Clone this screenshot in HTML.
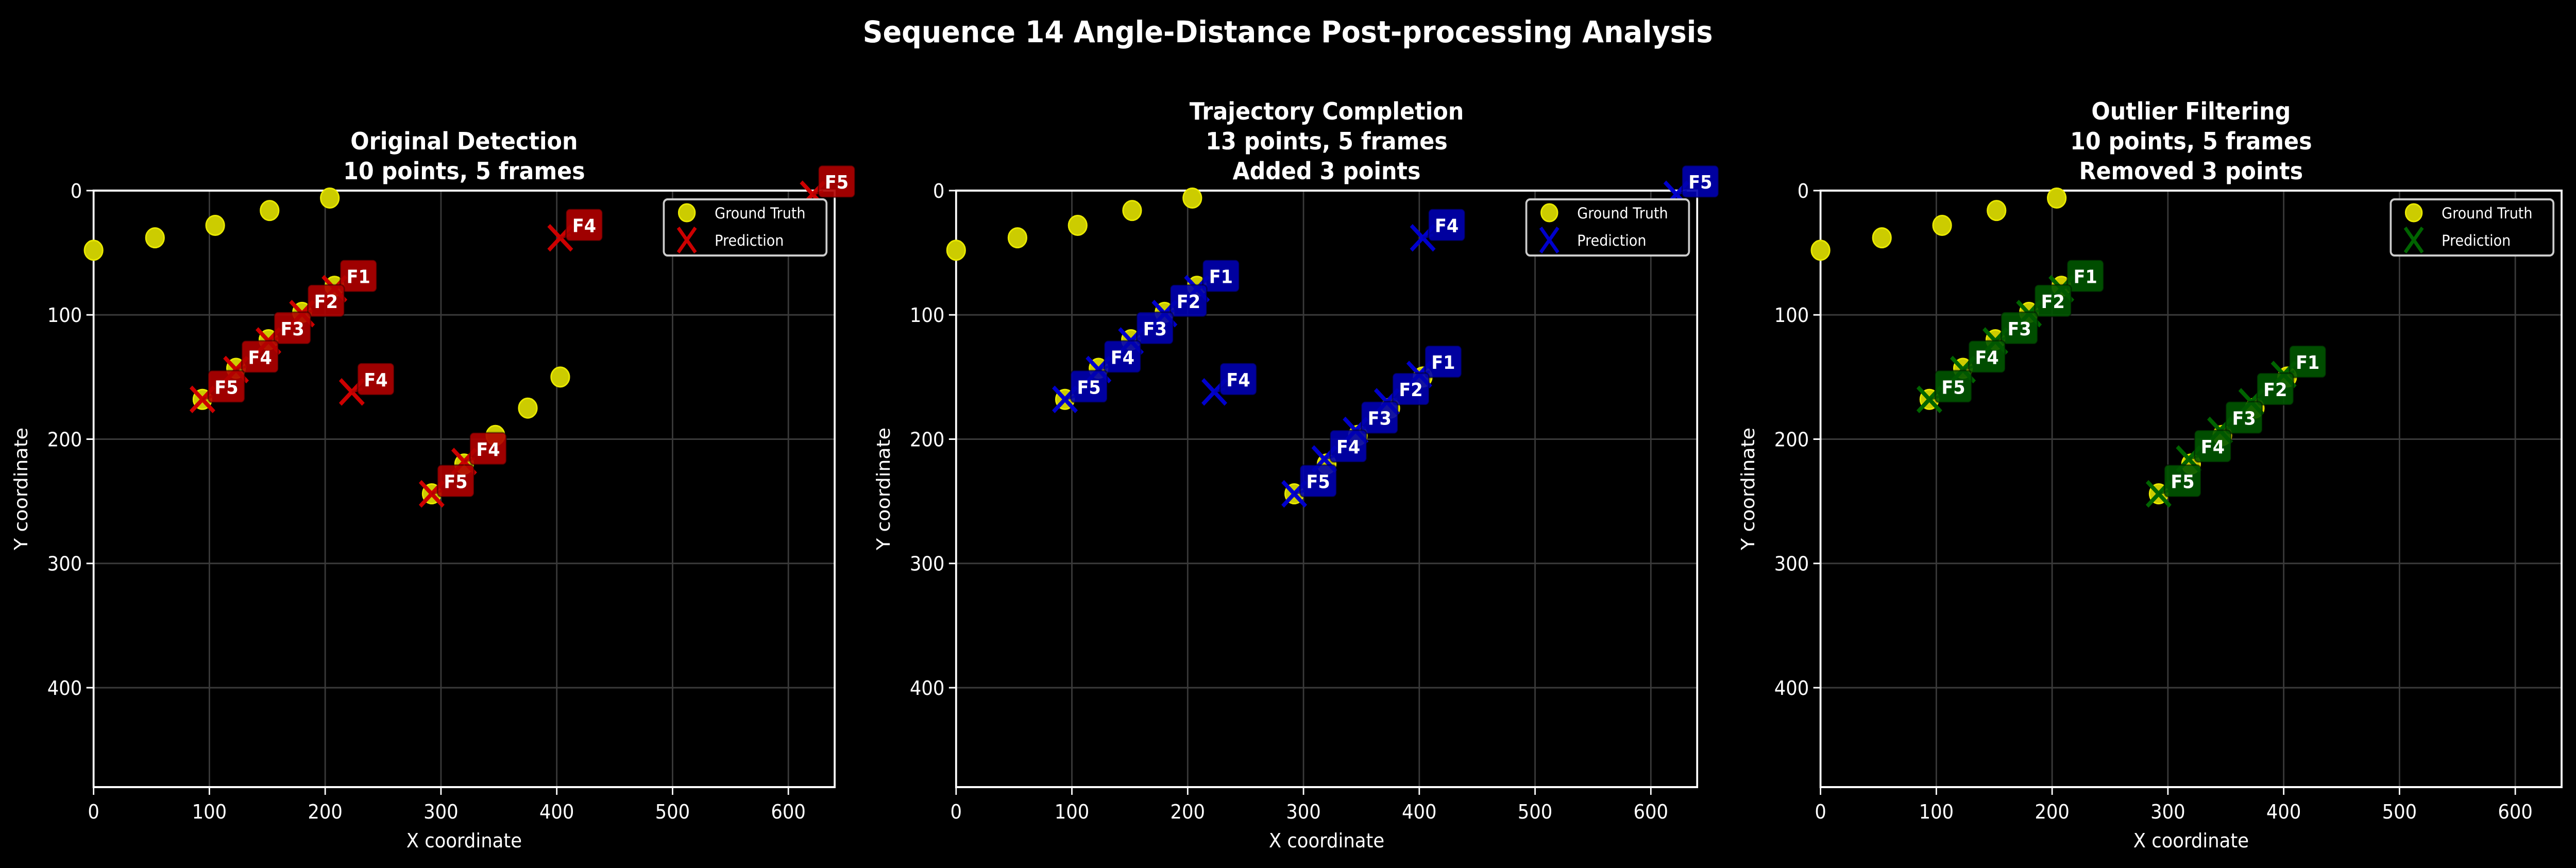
<!DOCTYPE html>
<html><head><meta charset="utf-8"><style>
html,body{margin:0;padding:0;background:#000;width:100vw;height:100vh;overflow:hidden;}
svg{display:block;width:100vw;height:100vh;}
text{font-family:"DejaVu Sans","Liberation Sans",sans-serif;fill:#fff;}
</style></head><body>
<svg id="fig" viewBox="0 0 5367 1685" preserveAspectRatio="none" xmlns="http://www.w3.org/2000/svg">
<rect width="5367" height="1685" fill="#000"/>
<text x="2683" y="82" text-anchor="middle" font-size="58" font-weight="bold">Sequence 14 Angle-Distance Post-processing Analysis</text>
</svg>
<script>
const xTicks=[0,100,200,300,400,500,600];
const yTicks=[0,100,200,300,400];
const gtX=[0,53,105,152,204,208,180,151,123,94,403,375,347,320,292];
const gtY=[48,38,28,16,6,77,98,120,143,168,150,175,197,220,244];
const p1X=[208,180,151,123,94,223,403,621,320,292];
const p1Y=[79,99,121,144,168,162,38,3,218,244];
const p1L=["F1","F2","F3","F4","F5","F4","F4","F5","F4","F5"];
const p2X=[208,180,151,123,94,223,403,622,400,372,345,318,292];
const p2Y=[79,99,121,144,168,162,38,3,148,170,193,216,244];
const p2L=["F1","F2","F3","F4","F5","F4","F4","F5","F1","F2","F3","F4","F5"];
const p3X=[208,180,151,123,94,400,372,345,318,292];
const p3Y=[79,99,121,144,168,148,170,193,216,244];
const p3L=["F1","F2","F3","F4","F5","F1","F2","F3","F4","F5"];
const titles=[["Original Detection","10 points, 5 frames"],["Trajectory Completion","13 points, 5 frames","Added 3 points"],["Outlier Filtering","10 points, 5 frames","Removed 3 points"]];

const NS="http://www.w3.org/2000/svg";
const svg=document.getElementById('fig');
function mk(tag,attrs,parent,txt){const e=document.createElementNS(NS,tag);for(const k in attrs)e.setAttribute(k,attrs[k]);if(txt!==undefined)e.textContent=txt;(parent||svg).appendChild(e);return e;}

const panels=[
 {off:0,px:p1X,py:p1Y,pl:p1L,mark:"#cc0000",box:"#b00000"},
 {off:1797,px:p2X,py:p2Y,pl:p2L,mark:"#0000cc",box:"#0000b0"},
 {off:3598,px:p3X,py:p3Y,pl:p3L,mark:"#006400",box:"#005500"}];

panels.forEach((P,pi)=>{
 const X0=195+P.off,X1=1739+P.off,Y0=370,Y1=1528;
 const sx=v=>X0+v*(X1-X0)/640, sy=v=>Y0+v*(Y1-Y0)/480;
 const g=mk('g',{});
 
 
 const tl=titles[pi]; const base=332-(tl.length-1)*58;
 tl.forEach((t,i)=>{const e=mk('text',{x:(X0+X1)/2,y:base+i*58+16,'text-anchor':'middle','font-size':46,'font-weight':'bold'},g,t);
  
  });
 xTicks.forEach(v=>{const l=mk('line',{x1:sx(v),x2:sx(v),y1:Y0,y2:Y1,stroke:'#3a3a3a','stroke-width':3},g);
  
  mk('line',{x1:sx(v),x2:sx(v),y1:Y1,y2:Y1+15,stroke:'#fff','stroke-width':3},g);
  const t=mk('text',{x:sx(v),y:1589,'text-anchor':'middle','font-size':38},g,String(v));
  });
 yTicks.forEach(v=>{const l=mk('line',{x1:X0,x2:X1,y1:sy(v),y2:sy(v),stroke:'#3a3a3a','stroke-width':3},g);
  
  mk('line',{x1:X0-15,x2:X0,y1:sy(v),y2:sy(v),stroke:'#fff','stroke-width':3},g);
  const t=mk('text',{x:X0-24,y:sy(v)+14,'text-anchor':'end','font-size':38},g,String(v));
  });
 const fr=mk('rect',{x:X0,y:Y0,width:X1-X0,height:Y1-Y0,fill:'none',stroke:'#fff','stroke-width':4},g);
 
 const xl=mk('text',{x:(X0+X1)/2,y:1645,'text-anchor':'middle','font-size':38},g,'X coordinate');
 
 const yl=mk('text',{x:0,y:0,'text-anchor':'middle','font-size':38,transform:`translate(${X0-138},${(Y0+Y1)/2}) rotate(-90)`},g,'Y coordinate');
 
 gtX.forEach((x,i)=>{const c=mk('circle',{cx:sx(x),cy:sy(gtY[i]),r:19,fill:'#cccc00',stroke:'#e8e800','stroke-width':3},g);
  });
 P.px.forEach((x,i)=>{const cx=sx(x),cy=sy(P.py[i]),h=24;
  const pth=mk('path',{d:`M${cx-h} ${cy-h}L${cx+h} ${cy+h}M${cx-h} ${cy+h}L${cx+h} ${cy-h}`,stroke:P.mark,'stroke-width':8,fill:'none'},g);
  });
 P.px.forEach((x,i)=>{const cx=sx(x),cy=sy(P.py[i]);
  const bx=cx+12,by=cy-56;
  mk('line',{x1:bx+10,y1:by+50,x2:cx,y2:cy,stroke:P.box,'stroke-width':5,opacity:0.8},g);
  const r=mk('rect',{x:bx,y:by,width:76,height:62,rx:8,fill:P.box,'fill-opacity':0.9,stroke:'#000','stroke-opacity':0.4,'stroke-width':3},g);
  
  const t=mk('text',{x:bx+38,y:by+45,'text-anchor':'middle','font-size':36,'font-weight':'bold'},g,P.pl[i]);
  });
 const lg=mk('g',{},g);
 
 mk('rect',{x:X1-356,y:387,width:339,height:109,rx:8,fill:'#000',stroke:'#ccc','stroke-width':4},lg);
 mk('circle',{cx:X1-308,cy:413,r:17,fill:'#cccc00',stroke:'#e8e800','stroke-width':3},lg);
 const lx=X1-308,ly=466;
 mk('path',{d:`M${lx-18} ${ly-24}L${lx+18} ${ly+24}M${lx-18} ${ly+24}L${lx+18} ${ly-24}`,stroke:P.mark,'stroke-width':7,fill:'none'},lg);
 const e1=mk('text',{x:X1-250,y:424,'font-size':29},lg,'Ground Truth');
 
 const e2=mk('text',{x:X1-250,y:477,'font-size':29},lg,'Prediction');
 
});
</script>
</body></html>
